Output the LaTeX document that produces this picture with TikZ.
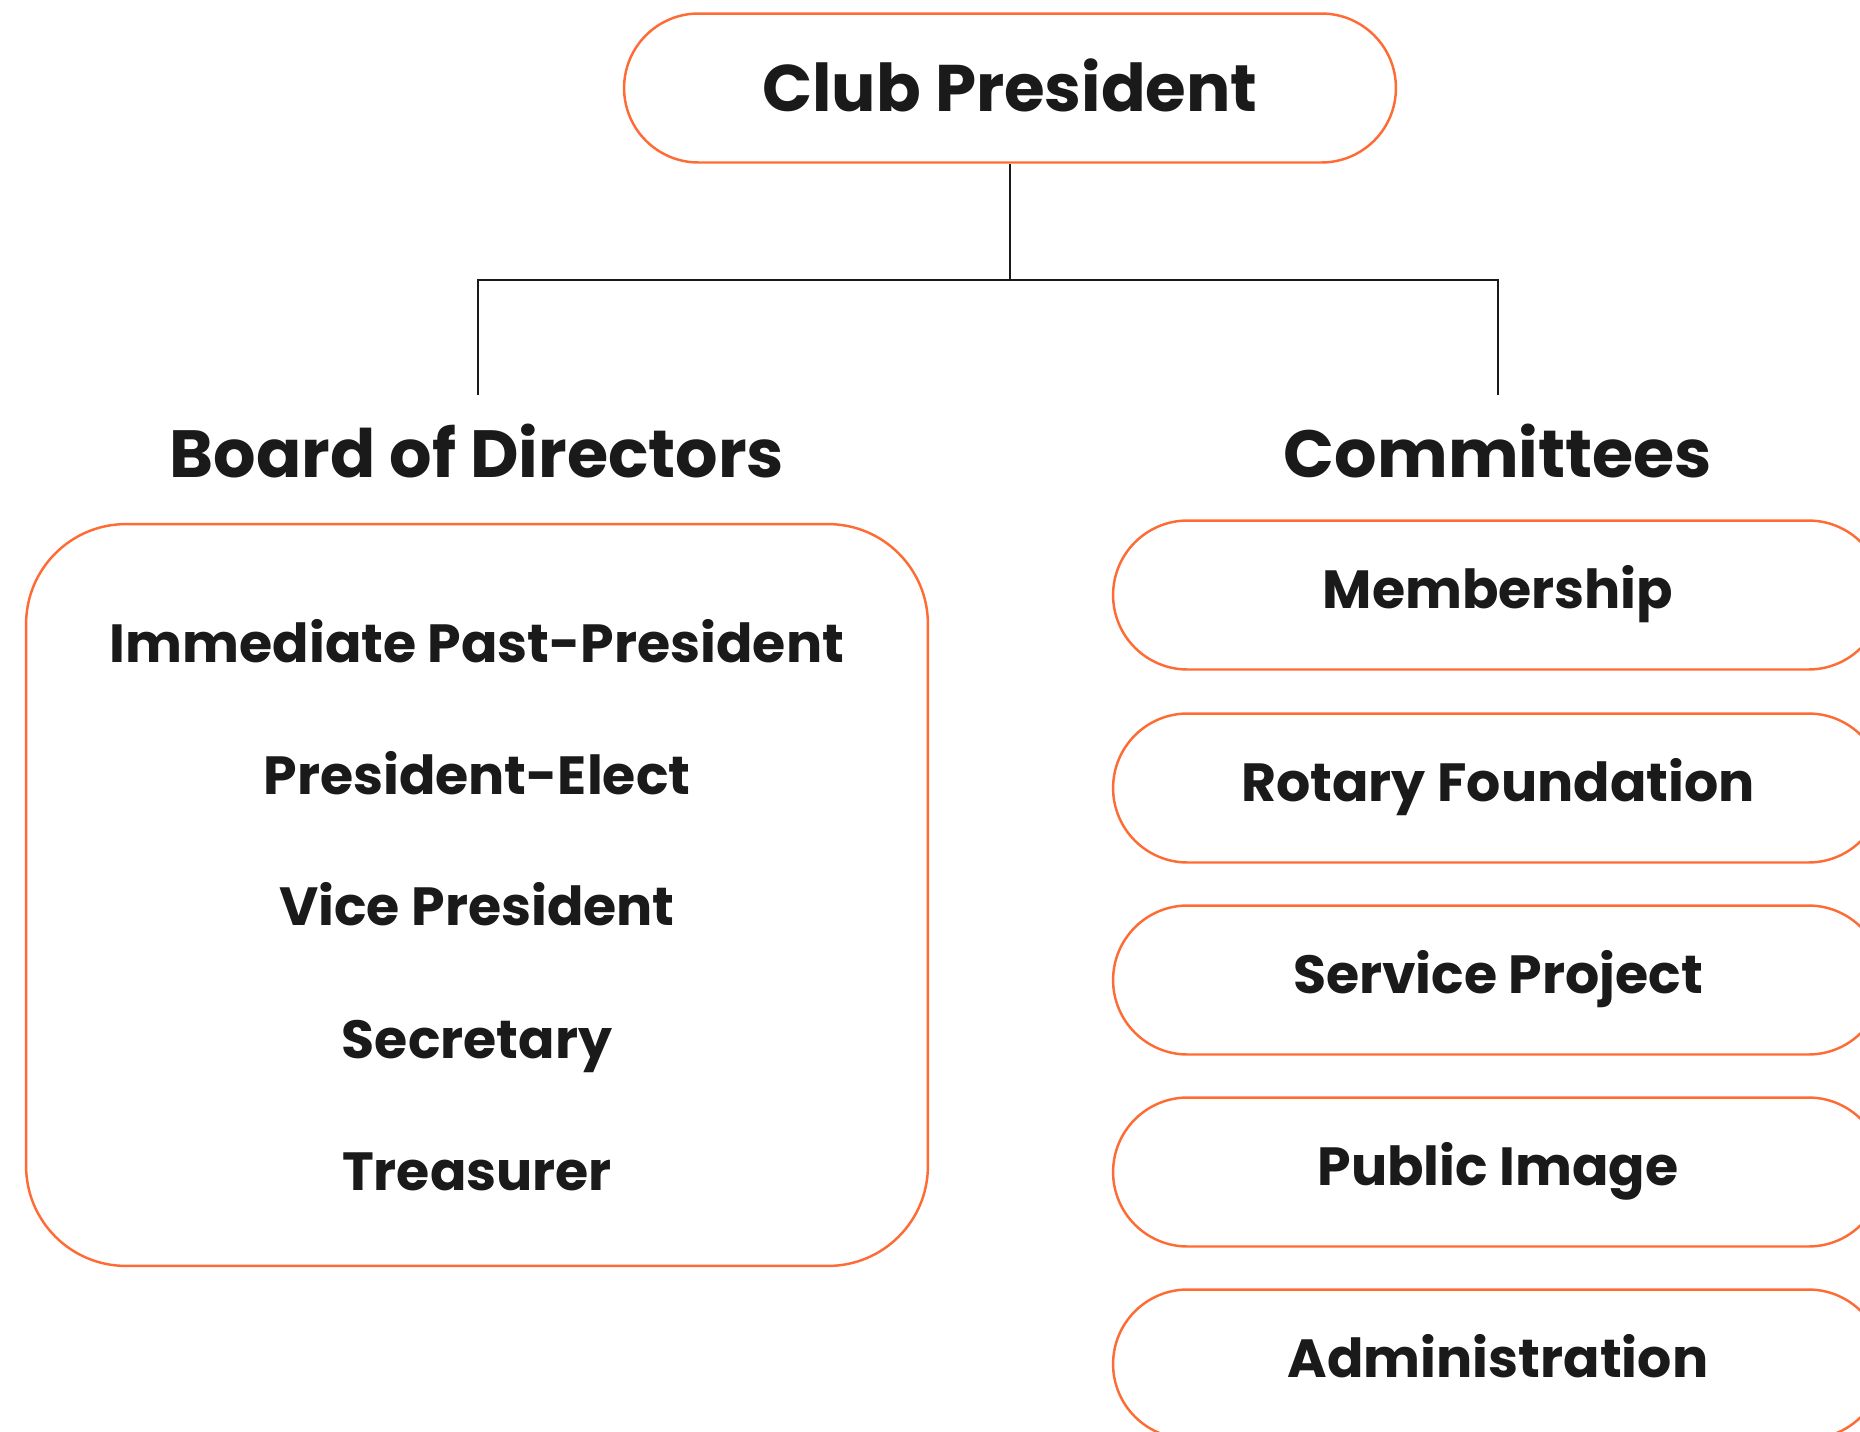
\documentclass[tikz,border=0pt]{standalone}
\usepackage{fontspec}
\setmainfont{Poppins}
\definecolor{laranja}{HTML}{FF6B35}
\definecolor{tinta}{HTML}{1A1A1A}
\tikzset{
  caixa/.style={draw=laranja, line width=1.4pt, text=tinta, font=\bfseries\fontsize{30.6}{36}\selectfont,
    text height=21.4pt, text depth=0pt, inner sep=0pt},
  pilula/.style={caixa, rounded corners=1.49cm, minimum height=2.98cm},
  titulo/.style={text=tinta, font=\bfseries\fontsize{38}{44}\selectfont, text height=26.6pt, text depth=0pt, inner sep=0pt},
  item/.style={text=tinta, font=\bfseries\fontsize{30.6}{36}\selectfont, text height=21.4pt, text depth=0pt, inner sep=0pt},
  liga/.style={draw=tinta, line width=1.1pt}
}
\begin{document}
\begin{tikzpicture}[x=0.02cm, y=-0.02cm]
  % moldura da imagem
  \useasboundingbox (0,0) rectangle (1860,1431);
  \clip (0,0) rectangle (1860,1431);
  % topo
  \node[pilula, minimum width=15.44cm, font=\bfseries\fontsize{37.5}{43}\selectfont, text height=26.2pt] (pres) at (1010,88) {Club President};
  % ramos
  \coordinate (meio) at (1010,280);
  \coordinate (bd-top) at (478,395);
  \coordinate (cm-top) at (1498,395);
  \draw[liga] (pres.south) -- (meio);
  \draw[liga] (bd-top) |- (meio) -| (cm-top);
  \node[titulo] (board) at (477,454) {Board of Directors};
  \node[titulo] (comm) at (1498,454) {Committees};
  % conselho
  \node[caixa, rounded corners=2cm, minimum width=18.04cm, minimum height=14.84cm] (bdbox) at (477,895) {};
  \node[item] (ipp) at (477,644) {Immediate Past-President};
  \node[item] (pe) at (477,776) {President-Elect};
  \node[item] (vp) at (477,907) {Vice President};
  \node[item] (sec) at (477,1040) {Secretary};
  \node[item] (tes) at (477,1172) {Treasurer};
  % comissoes
  \foreach \nome/\txt/\yy in {mem/Membership/595, rf/Rotary Foundation/788, sp/Service Project/980, pi/Public Image/1172, adm/Administration/1364}
    \node[pilula, minimum width=15.4cm, text depth=5.6pt] (\nome) at (1498,\yy) {\txt};
\end{tikzpicture}
\end{document}
